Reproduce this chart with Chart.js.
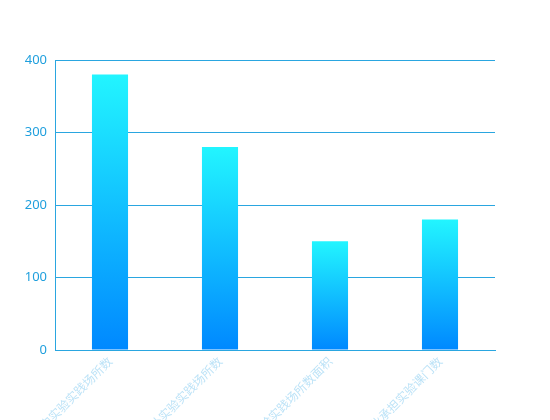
<!DOCTYPE html>
<html>
<head>
<meta charset="utf-8">
<script src="https://cdn.jsdelivr.net/npm/chart.js@4"></script>
<style>
  html, body { margin: 0; padding: 0; background: #fff; }
  #wrap { width: 550px; height: 420px; }
</style>
</head>
<body>
<div id="wrap"><canvas id="barChart"></canvas></div>
<script>
// datos del gráfico
const categorias = ['校内实验实践场所数', '校外实验实践场所数', '校内实验实践场所数面积', '企业承担实验课门数'];
const valores = [380, 280, 150, 180];
const ejeY = { min: 0, max: 400, step: 100 };

// degradado por barra (arriba cian, abajo azul)
function degradado(context) {
    const chart = context.chart;
    const area = chart.chartArea;
    if (!area || context.type !== 'data') return '#0a8cff';
    const y = chart.scales.y;
    const top = y.getPixelForValue(valores[context.dataIndex]);
    const bottom = y.getPixelForValue(0);
    const g = chart.ctx.createLinearGradient(0, top, 0, bottom);
    g.addColorStop(0, 'rgba(34, 245, 255, 1)');
    g.addColorStop(1, 'rgba(0, 136, 255, 1)');
    return g;
}

const ctx = document.getElementById('barChart').getContext('2d');
const barChart = new Chart(ctx, {
    type: 'bar',
    data: {
        labels: categorias,
        datasets: [{
            data: valores,
            backgroundColor: degradado,
            borderWidth: 0,
            barPercentage: 0.41,
            categoryPercentage: 0.8
        }]
    },
    options: {
        responsive: true,
        maintainAspectRatio: false,
        animation: false,
        layout: { padding: { top: 60, right: 55, left: 0, bottom: 0 } },
        plugins: {
            legend: { display: false },
            tooltip: { enabled: false }
        },
        scales: {
            x: {
                grid: { display: false, drawTicks: false },
                border: { display: true, color: '#2aa6e0', width: 1 },
                ticks: {
                    color: 'rgba(30, 160, 230, 0.3)',
                    font: { size: 12, family: '"Noto Sans CJK SC", sans-serif' },
                    maxRotation: 45,
                    minRotation: 45,
                    autoSkip: false,
                    padding: 4
                },
                afterFit: function(scale) { scale.height = 70; }
            },
            y: {
                min: ejeY.min,
                max: ejeY.max,
                grid: { color: '#2aa6e0', drawTicks: false, lineWidth: 1 },
                border: { display: true, color: '#2aa6e0', width: 1 },
                ticks: {
                    stepSize: ejeY.step,
                    color: '#1f9fdd',
                    font: { size: 13, family: '"Noto Sans", sans-serif' },
                    padding: 8
                },
                afterFit: function(scale) { scale.width = 55; }
            }
        }
    }
});
</script>
</body>
</html>
